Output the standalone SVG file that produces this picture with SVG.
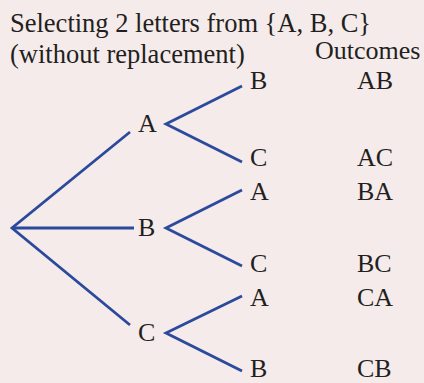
<svg xmlns="http://www.w3.org/2000/svg" width="424" height="383" viewBox="0 0 424 383">
<style>
text { font-family: "Liberation Serif", "Times New Roman", serif; font-size: 26px; fill: #231f20; }
.title { font-size: 26.5px; }
.edge { stroke: #2b4a9b; stroke-width: 2.8; fill: none; stroke-linecap: butt; stroke-linejoin: miter; }
</style>
<rect x="0" y="0" width="424" height="383" fill="#f5ebeb"/>
<g id="title">
<text class="title" x="10" y="32">Selecting 2 letters from {A, B, C}</text>
<text class="title" x="10" y="63">(without replacement)</text>
</g>
<g id="outcomes-header"><text x="315" y="59">Outcomes</text></g>
<g id="connectors">
<polyline class="edge" points="130,132 12,228 130,325"/>
<line class="edge" x1="12" y1="228" x2="134" y2="228"/>
<polyline class="edge" points="242,86 166,124 242,162"/>
<polyline class="edge" points="242,190 166,228 242,266"/>
<polyline class="edge" points="242,296 166,333 242,371"/>
</g>
<g id="node-A"><text x="138" y="132">A</text></g>
<g id="node-B"><text x="138" y="236">B</text></g>
<g id="node-C"><text x="138" y="341">C</text></g>
<g id="node-AB"><text x="250" y="89">B</text><text x="357" y="89">AB</text></g>
<g id="node-AC"><text x="250" y="166">C</text><text x="357" y="166">AC</text></g>
<g id="node-BA"><text x="250" y="200">A</text><text x="357" y="200">BA</text></g>
<g id="node-BC"><text x="250" y="272">C</text><text x="357" y="272">BC</text></g>
<g id="node-CA"><text x="250" y="306">A</text><text x="357" y="306">CA</text></g>
<g id="node-CB"><text x="250" y="377">B</text><text x="357" y="377">CB</text></g>
</svg>
